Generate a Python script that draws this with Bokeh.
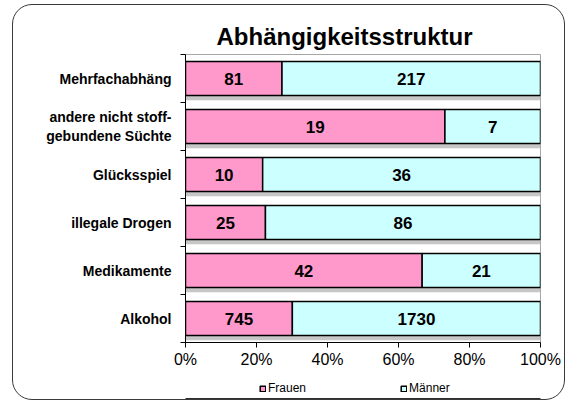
from bokeh.plotting import figure
from bokeh.layouts import column
from bokeh.models import (ColumnDataSource, FixedTicker, NumeralTickFormatter, LinearAxis,
                          Legend, LegendItem, Range1d)
from bokeh.transform import dodge
from bokeh.core.properties import value
from bokeh.embed import file_html
from bokeh.resources import INLINE

# Data (bottom -> top)
categories = ["Alkohol", "Medikamente", "illegale Drogen", "Glücksspiel",
              "andere nicht stoff-\ngebundene Süchte", "Mehrfachabhäng"]
frauen = [745, 42, 25, 10, 19, 81]
maenner = [1730, 21, 86, 36, 7, 217]
series = ["Frauen", "Männer"]
colors = ["#FF99CC", "#CCFFFF"]
x_ticks = [0, 0.2, 0.4, 0.6, 0.8, 1.0]

pos = [i + 0.5 for i in range(len(categories))]
tot = [f + m for f, m in zip(frauen, maenner)]
f_share = [f / t for f, t in zip(frauen, tot)]
src = ColumnDataSource(dict(
    y=pos, zero=[0] * len(pos), one=[1] * len(pos), f=f_share,
    f_mid=[s / 2 for s in f_share], m_mid=[(s + 1) / 2 for s in f_share],
    f_lab=[str(v) for v in frauen], m_lab=[str(v) for v in maenner],
))

FONT = "Liberation Sans"

p = figure(frame_width=355, frame_height=288, output_backend="svg", toolbar_location=None,
           x_range=Range1d(0, 1), y_range=Range1d(0, len(categories)),
           min_border_left=172, min_border_right=24, min_border_top=49, min_border_bottom=28,
           title="Abhängigkeitsstruktur")
p.title.text_font = FONT
p.title.text_font_size = "24px"
p.title.text_font_style = "bold"
p.title.align = "left"
p.title.offset = 31
p.title.text_color = "black"

p.background_fill_color = "white"
p.border_fill_alpha = 0
p.outline_line_color = "#a6a6a6"
p.grid.visible = False

# shadows
p.hbar(y=dodge("y", -0.1), left="zero", right="one", height=0.71, source=src,
       fill_color="#bdbdbd", fill_alpha=0.85, line_color=None)

p.hbar(y="y", left="zero", right="f", height=0.71, source=src,
       fill_color=colors[0], line_color="black", line_width=1.5)
p.hbar(y="y", left="f", right="one", height=0.71, source=src,
       fill_color=colors[1], line_color="black", line_width=1.5)

for col, xcol in (("f_lab", "f_mid"), ("m_lab", "m_mid")):
    p.text(x=xcol, y="y", text=col, source=src, text_align="center",
           text_baseline="middle", text_font=value(FONT), text_font_size="17px",
           text_font_style="bold", text_color="black")

# x axis
xa = p.xaxis[0]
xa.ticker = FixedTicker(ticks=x_ticks)
xa.formatter = NumeralTickFormatter(format="0%")
xa.major_label_text_font = FONT
xa.major_label_text_font_size = "16px"
xa.major_label_text_color = "black"
xa.major_label_standoff = 3
xa.axis_line_color = "black"
xa.major_tick_line_color = "black"
xa.major_tick_out = 5
xa.major_tick_in = 0
xa.minor_tick_line_color = None

# y axis: ticks at band boundaries
ya = p.yaxis[0]
ya.ticker = FixedTicker(ticks=list(range(len(categories) + 1)))
ya.major_label_text_font_size = "0px"
ya.major_label_text_color = None
ya.axis_line_color = "black"
ya.major_tick_line_color = "black"
ya.major_tick_out = 5
ya.major_tick_in = 0
ya.minor_tick_line_color = None
ya.major_label_standoff = 0

# y labels axis
la = LinearAxis(ticker=FixedTicker(ticks=pos),
                major_label_overrides={v: c for v, c in zip(pos, categories)})
la.axis_line_color = None
la.major_tick_line_color = None
la.minor_tick_line_color = None
la.major_label_text_font = FONT
la.major_label_text_font_size = "14px"
la.major_label_text_font_style = "bold"
la.major_label_text_color = "black"
la.major_label_standoff = 3
p.add_layout(la, "left")

# legend strip (separate small figure below the chart; its bars lie outside its range)
p2 = figure(width=551, height=29, output_backend="svg", toolbar_location=None,
            x_range=Range1d(0, 1), y_range=Range1d(100, 101),
            x_axis_type=None, y_axis_type=None, min_border=0)
p2.outline_line_color = None
p2.background_fill_alpha = 0
p2.border_fill_alpha = 0
p2.grid.visible = False
lr = [p2.hbar(y="y", left=lft, right=rgt, height=0.5, source=src,
              fill_color=c, line_color="black", line_width=1.5)
      for c, lft, rgt in zip(colors, ["zero", "f"], ["f", "one"])]
legend = Legend(items=[LegendItem(label=s, renderers=[r]) for s, r in zip(series, lr)],
                orientation="horizontal", location=(74, 4))
legend.glyph_width = 7
legend.glyph_height = 7
legend.label_standoff = 2
legend.spacing = 94
legend.padding = 0
legend.margin = 0
legend.border_line_color = None
legend.background_fill_alpha = 0
legend.label_text_font = FONT
legend.label_text_font_size = "12px"
legend.label_text_color = "black"
legend.label_height = 12
p2.add_layout(legend, "center")

layout = column(p, p2, spacing=0,
                styles={"margin-left": "12px", "margin-top": "4px",
                        "border": "1px solid #3a3a3a", "border-radius": "20px"})

open("out.html", "w").write(file_html(layout, INLINE))
